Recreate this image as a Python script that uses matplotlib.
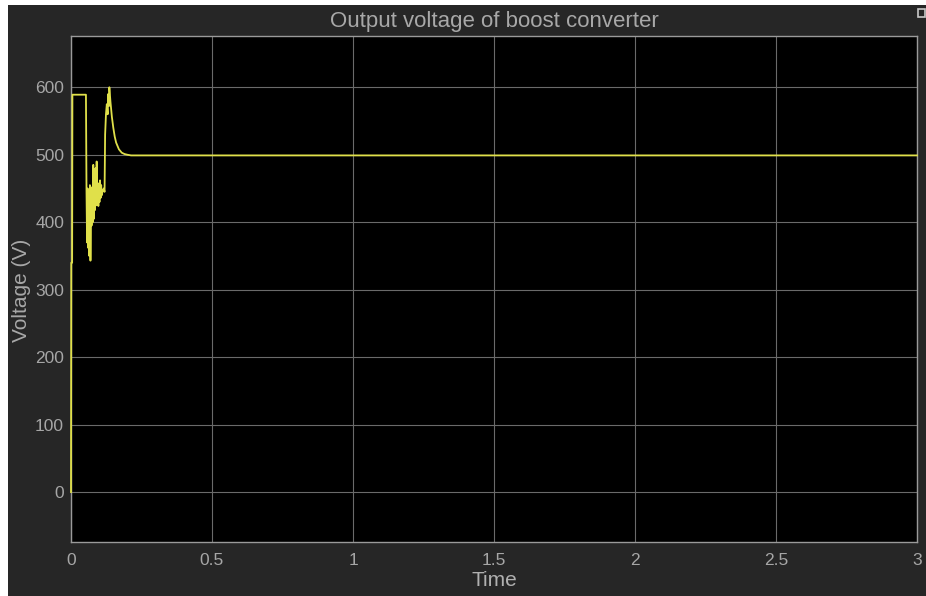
import matplotlib.pyplot as plt
from matplotlib.patches import Rectangle

# simulated output voltage
time = [0, 0.001, 0.004, 0.005, 0.053, 0.055, 0.057, 0.059, 0.061, 0.063, 0.065,
        0.067, 0.069, 0.071, 0.073, 0.075, 0.077, 0.079, 0.081, 0.083, 0.085,
        0.087, 0.089, 0.091, 0.093, 0.095, 0.097, 0.099, 0.101, 0.103, 0.105,
        0.107, 0.109, 0.112, 0.116, 0.119, 0.121, 0.124, 0.127, 0.130, 0.132,
        0.134, 0.136, 0.140, 0.145, 0.150, 0.155, 0.160, 0.170, 0.180, 0.190,
        0.200, 0.213, 0.25, 3.0]
voltage = [0, 340, 340, 589, 589, 445, 370, 450, 362, 440, 350,
           455, 343, 420, 395, 452, 400, 485, 405, 462, 418,
           480, 425, 490, 430, 458, 424, 452, 430, 462, 436,
           455, 440, 446, 450, 445, 530, 560, 575, 560, 590,
           572, 600, 578, 556, 540, 527, 518, 508, 503, 501,
           500, 499, 499, 499]

xticks = [0, 0.5, 1, 1.5, 2, 2.5, 3]
xticklabels = ['0', '0.5', '1', '1.5', '2', '2.5', '3']
yticks = [0, 100, 200, 300, 400, 500, 600]

W, H = 926, 596
plt.rcParams['font.family'] = ['Liberation Sans', 'DejaVu Sans']
fig = plt.figure(figsize=(W / 100, H / 100), dpi=100)
fig.patch.set_facecolor('white')
# dark scope window background (white strip left/top like the screenshot)
fig.add_artist(Rectangle((8 / W, 0), 1, 1 - 5 / H, transform=fig.transFigure,
                         facecolor='#262626', edgecolor='none', zorder=0))
# small undock icon top right
fig.add_artist(Rectangle((918 / W, 1 - 17 / H), 7 / W, 8 / H, transform=fig.transFigure,
                         facecolor='none', edgecolor='#c8c8c8', linewidth=1.2, zorder=1))

ax = fig.add_axes([71 / W, 1 - 542 / H, (917 - 71) / W, (542 - 36) / H])
ax.set_facecolor('black')
ax.plot(time, voltage, color='#e0e04a', linewidth=1.3, zorder=3, clip_on=False)

ax.set_xlim(0, 3)
ax.set_ylim(-74, 676)
ax.set_xticks(xticks)
ax.set_xticklabels(xticklabels)
ax.set_yticks(yticks)
ax.grid(True, color='#6a6a6a', linewidth=0.8)
ax.tick_params(length=0, colors='#a6a6a6', labelsize=12.5)
ax.tick_params(axis='x', pad=8)
ax.tick_params(axis='y', pad=5)
for s in ax.spines.values():
    s.set_color('#9a9a9a')
    s.set_linewidth(1)

fig.text(494 / W, 1 - 22 / H, 'Output voltage of boost converter', ha='center',
         va='center', color='#a8a8a8', fontsize=16)
fig.text(494 / W, 1 - 580 / H, 'Time', ha='center', va='center',
         color='#b0b0b0', fontsize=15)
fig.text(22 / W, 1 - 290 / H, 'Voltage (V)', ha='center', va='center',
         rotation=90, color='#a8a8a8', fontsize=15)

fig.savefig('out.png', dpi=100)
